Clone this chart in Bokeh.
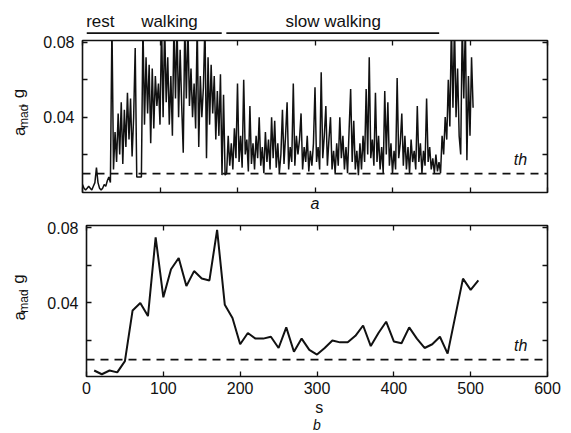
import math
from bokeh.plotting import figure
from bokeh.models import Range1d, LinearAxis, FixedTicker, Span
from bokeh.core.properties import value
from bokeh.layouts import column, row
from bokeh.embed import file_html
from bokeh.resources import INLINE

# ---------------- data ----------------
TOP_DT = 2  # seconds between samples of panel a
top_values = [
    0.004, 0.002, 0.001, 0.002, 0.003,   # 0
    0.002, 0.001, 0.003, 0.005, 0.013,   # 10
    0.005, 0.002, 0.001, 0.002, 0.004,   # 20
    0.003, 0.006, 0.008, 0.005, 0.090,   # 30
    0.012, 0.032, 0.016, 0.042, 0.020,   # 40
    0.048, 0.015, 0.044, 0.024, 0.053,   # 50
    0.028, 0.050, 0.019, 0.040, 0.077,   # 60
    0.008, 0.008, 0.008, 0.008, 0.090,   # 70
    0.036, 0.072, 0.042, 0.068, 0.026,   # 80
    0.066, 0.034, 0.062, 0.046, 0.058,   # 90
    0.036, 0.090, 0.040, 0.090, 0.048,   # 100
    0.072, 0.036, 0.062, 0.030, 0.090,   # 110
    0.050, 0.090, 0.040, 0.076, 0.046,   # 120
    0.021, 0.090, 0.050, 0.090, 0.046,   # 130
    0.066, 0.040, 0.058, 0.034, 0.090,   # 140
    0.024, 0.062, 0.040, 0.056, 0.090,   # 150
    0.018, 0.072, 0.036, 0.068, 0.042,   # 160
    0.062, 0.028, 0.054, 0.030, 0.063,   # 170
    0.009, 0.052, 0.009, 0.010, 0.030,   # 180
    0.014, 0.026, 0.012, 0.034, 0.018,   # 190
    0.058, 0.016, 0.030, 0.013, 0.060,   # 200
    0.020, 0.028, 0.011, 0.046, 0.015,   # 210
    0.026, 0.012, 0.030, 0.018, 0.040,   # 220
    0.014, 0.024, 0.010, 0.032, 0.016,   # 230
    0.028, 0.012, 0.040, 0.018, 0.038,   # 240
    0.013, 0.026, 0.010, 0.020, 0.044,   # 250
    0.015, 0.030, 0.048, 0.012, 0.024,   # 260
    0.016, 0.058, 0.014, 0.030, 0.020,   # 270
    0.028, 0.042, 0.012, 0.024, 0.016,   # 280
    0.030, 0.011, 0.022, 0.014, 0.026,   # 290
    0.056, 0.016, 0.024, 0.012, 0.064,   # 300
    0.018, 0.030, 0.046, 0.014, 0.028,   # 310
    0.040, 0.012, 0.022, 0.010, 0.026,   # 320
    0.014, 0.040, 0.018, 0.030, 0.012,   # 330
    0.024, 0.010, 0.033, 0.055, 0.016,   # 340
    0.038, 0.012, 0.022, 0.009, 0.026,   # 350
    0.012, 0.030, 0.016, 0.055, 0.020,   # 360
    0.072, 0.018, 0.028, 0.014, 0.053,   # 370
    0.016, 0.030, 0.012, 0.024, 0.010,   # 380
    0.054, 0.020, 0.048, 0.014, 0.026,   # 390
    0.010, 0.022, 0.012, 0.061, 0.018,   # 400
    0.026, 0.042, 0.014, 0.030, 0.012,   # 410
    0.024, 0.010, 0.028, 0.016, 0.022,   # 420
    0.012, 0.046, 0.016, 0.026, 0.010,   # 430
    0.022, 0.014, 0.050, 0.016, 0.024,   # 440
    0.012, 0.018, 0.010, 0.020, 0.011,   # 450
    0.016, 0.010, 0.030, 0.020, 0.040,   # 460
    0.028, 0.060, 0.035, 0.090, 0.045,   # 470
    0.090, 0.040, 0.066, 0.030, 0.020,   # 480
    0.090, 0.050, 0.090, 0.017, 0.062,   # 490
    0.030, 0.072, 0.045,                 # 500
]
top_time = [i * TOP_DT for i in range(len(top_values))]

bottom_time = [10, 20, 30, 40, 50, 60, 70, 80, 90, 100,
               110, 120, 130, 140, 150, 160, 170, 180, 190, 200,
               210, 220, 230, 240, 250, 260, 270, 280, 290, 300,
               310, 320, 330, 340, 350, 360, 370, 380, 390, 400,
               410, 420, 430, 440, 450, 460, 470, 480, 490, 500, 510]
bottom_values = [0.004, 0.002, 0.004, 0.003, 0.009, 0.036, 0.040, 0.033, 0.075, 0.043,
                 0.058, 0.064, 0.049, 0.057, 0.053, 0.052, 0.079, 0.039, 0.032, 0.018,
                 0.024, 0.021, 0.021, 0.022, 0.016, 0.027, 0.014, 0.021, 0.015, 0.0125,
                 0.016, 0.020, 0.019, 0.019, 0.0225, 0.028, 0.017, 0.024, 0.030, 0.0195,
                 0.0185, 0.027, 0.021, 0.016, 0.018, 0.022, 0.013, 0.033, 0.053, 0.047, 0.052]

TH = 0.0098
phases = ["rest", "walking", "slow walking"]
phase_label_x = [18, 108, 321]
phase_bar_start = [0, 182]
phase_bar_end = [176, 459]
x_ticks = [0, 100, 200, 300, 400, 500, 600]
y_major = [0.04, 0.08]
y_minor = [0.02, 0.06]

FONT = "Liberation Sans"
BLACK = "#111111"
W = 571
YLAB_W = 30
RIGHT_B = 24


def blank_fig(width, height, x_rng, y_rng, b_left=0, b_right=0):
    p = figure(width=width, height=height, x_range=x_rng, y_range=y_rng,
               output_backend="svg", toolbar_location=None,
               min_border_left=b_left, min_border_right=b_right,
               min_border_top=0, min_border_bottom=0,
               x_axis_type=None, y_axis_type=None)
    p.grid.visible = False
    p.outline_line_color = None
    p.background_fill_color = "white"
    p.border_fill_color = "white"
    return p


def panel_fig(width, height, b_top, b_bottom, b_left, y_rng):
    p = figure(width=width, height=height, x_range=Range1d(0, 600), y_range=Range1d(*y_rng),
               output_backend="svg", toolbar_location=None,
               min_border_left=b_left, min_border_right=RIGHT_B,
               min_border_top=b_top, min_border_bottom=b_bottom,
               x_axis_type=None, y_axis_type=None)
    p.grid.visible = False
    p.outline_line_color = BLACK
    p.outline_line_width = 1.6
    p.background_fill_color = "white"
    p.border_fill_color = "white"
    return p


def style_axis(ax, labels=False):
    ax.axis_line_color = None
    ax.major_tick_in = 5
    ax.major_tick_out = 0
    ax.minor_tick_in = 5
    ax.minor_tick_out = 0
    ax.major_tick_line_color = BLACK
    ax.minor_tick_line_color = BLACK
    ax.major_tick_line_width = 1.3
    ax.minor_tick_line_width = 1.3
    ax.major_label_text_font = FONT
    if labels:
        ax.major_label_text_color = BLACK
        ax.major_label_text_font_size = "16px"
    else:
        ax.major_label_text_color = None
        ax.major_label_text_font_size = "1px"
        ax.major_label_standoff = 0


def add_axes(p, x_labels):
    left = LinearAxis(ticker=FixedTicker(ticks=y_major, minor_ticks=y_minor))
    style_axis(left, labels=True)
    left.major_label_standoff = 8
    p.add_layout(left, "left")
    right = LinearAxis(ticker=FixedTicker(ticks=y_major, minor_ticks=y_minor))
    style_axis(right)
    p.add_layout(right, "right")
    below = LinearAxis(ticker=FixedTicker(ticks=x_ticks))
    style_axis(below, labels=x_labels)
    if x_labels:
        below.major_label_standoff = 5
    p.add_layout(below, "below")
    above = LinearAxis(ticker=FixedTicker(ticks=x_ticks))
    style_axis(above)
    p.add_layout(above, "above")
    return below


def add_threshold(p):
    p.add_layout(Span(location=TH, dimension="width", line_color=BLACK,
                      line_width=1.6, line_dash="8 6"))
    p.text(x=[565], y=[TH + 0.0075], text=["th"], text_font=value(FONT),
           text_font_style="italic", text_font_size=value("16px"), text_color=BLACK,
           text_align="center", text_baseline="middle")


def ylabel_fig(height, a_start):
    # narrow strip in pixel coordinates (y up from strip bottom); text reads bottom-to-top
    p = blank_fig(YLAB_W, height, Range1d(0, YLAB_W), Range1d(0, height))
    p.text(x=[28.6, 30.0, 27.6], y=[a_start, a_start + 9.5, a_start + 33.5],
           text=["a", "mad", ", g"], angle=[math.pi / 2] * 3,
           text_font=value(FONT), text_font_size=["17px", "12px", "17px"],
           text_color=BLACK, text_align="left", text_baseline="bottom")
    return p


# ---------------- header (phase labels and bars) ----------------
hdr = blank_fig(W, 34, Range1d(0, 600), Range1d(0, 34), b_left=82, b_right=RIGHT_B)
hdr.text(x=phase_label_x, y=[4.0] * len(phases), text=phases, text_font=value(FONT),
         text_font_size=value("17px"), text_color=BLACK, text_align="center",
         text_baseline="bottom")
hdr.segment(x0=phase_bar_start, y0=[1.2] * 2, x1=phase_bar_end, y1=[1.2] * 2,
            line_color=BLACK, line_width=2)

# ---------------- panel a ----------------
p1 = panel_fig(W - YLAB_W, 180, 6, 21, 52, (-0.0003, 0.081))
ax1 = add_axes(p1, x_labels=False)
ax1.axis_label = "a"
ax1.axis_label_text_font = FONT
ax1.axis_label_text_font_style = "italic"
ax1.axis_label_text_font_size = "16px"
ax1.axis_label_text_color = BLACK
ax1.axis_label_standoff = 2
p1.line(top_time, top_values, line_color=BLACK, line_width=1.5)
add_threshold(p1)
yl1 = ylabel_fig(180, 214 - 147)

# ---------------- panel b ----------------
p2 = panel_fig(W - YLAB_W, 186, 11, 24, 56, (0.0008, 0.0813))
add_axes(p2, x_labels=True)
p2.line(bottom_time, bottom_values, line_color=BLACK, line_width=2)
add_threshold(p2)
yl2 = ylabel_fig(186, 400 - 331)

# ---------------- footer ("s" and panel letter) ----------------
ftr = blank_fig(W, 33, Range1d(0, 600), Range1d(0, 33), b_left=86, b_right=RIGHT_B)
ftr.text(x=[303, 300], y=[17.5, 0.5], text=["s", "b"], text_font=value(FONT),
         text_font_size=["16px", "14px"], text_font_style=["normal", "italic"],
         text_color=BLACK, text_align="center", text_baseline="bottom")

layout = column(hdr, row(yl1, p1), row(yl2, p2), ftr)
open("out.html", "w").write(file_html(layout, INLINE))
